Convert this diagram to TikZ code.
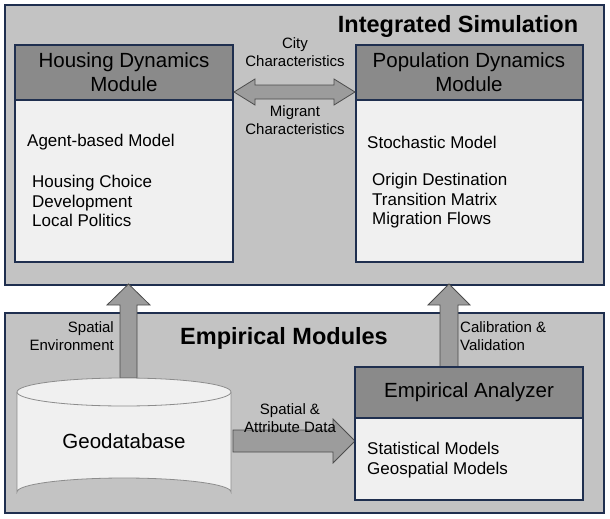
\documentclass[tikz,border=0pt]{standalone}
\usepackage{fontspec}
\setmainfont{Liberation Sans}
\usetikzlibrary{shapes.geometric,shapes.arrows}
\definecolor{navy}{HTML}{1F2F4F}
\definecolor{panel}{HTML}{C3C3C3}
\definecolor{head}{HTML}{8A8A8A}
\definecolor{box}{HTML}{F0F0F0}
\begin{document}
\begin{tikzpicture}[x=1pt,y=-1pt,
 panelst/.style={draw=navy,line width=2.5pt,fill=panel},
 boxst/.style={draw=navy,line width=1.8pt,fill=box},
 headst/.style={draw=navy,line width=1.8pt,fill=head},
 txt/.style={font=\fontsize{17}{19.5}\selectfont,anchor=west,align=left,inner sep=0},
 lab/.style={font=\fontsize{15}{18}\selectfont,align=center,inner sep=0},
 htxt/.style={font=\fontsize{20.5}{24}\selectfont,align=center},
 arr/.style={draw=black!70,fill=head!85,line width=0.8pt}]
\useasboundingbox (0,0) rectangle (610,519);
% panels
\draw[panelst] (5,5) rectangle (604,285);
\draw[panelst] (5,313) rectangle (604,513);
\node[font=\bfseries\fontsize{23.5}{27}\selectfont] (t1) at (458,26) {Integrated Simulation};
\node[font=\bfseries\fontsize{23.5}{27}\selectfont] (t2) at (284,338) {Empirical Modules};
% housing
\draw[boxst] (15,45) rectangle (233,262);
\draw[headst] (15,45) rectangle (233,100);
\node[htxt] (hh) at (124,72) {Housing Dynamics\\Module};
\node[txt] (h1) at (27,142) {Agent-based Model};
\node[txt] (h2) at (32,201) {Housing Choice\\Development\\Local Politics};
% population
\draw[boxst] (356,45) rectangle (583,262);
\draw[headst] (356,45) rectangle (583,100);
\node[htxt] (ph) at (469,72) {Population Dynamics\\Module};
\node[txt] (p1) at (367,142) {Stochastic Model};
\node[txt] (p2) at (372,201) {Origin Destination\\Transition Matrix\\Migration Flows};
% double arrow
\draw[arr] (234,92) -- (255,79) -- (255,85) -- (334,85) -- (334,79) -- (355,92) -- (334,105) -- (334,99) -- (255,99) -- (255,105) -- cycle;
\node[lab] (c1) at (295,52) {City\\Characteristics};
\node[lab] (c2) at (295,120) {Migrant\\Characteristics};
% up arrows
\draw[arr] (120,378) -- (120,305) -- (107,305) -- (128.5,284) -- (150,305) -- (137,305) -- (137,378) -- cycle;
\node[lab,anchor=east,align=right] (se) at (114,336) {Spatial\\Environment};
\draw[arr] (440,367) -- (440,305) -- (428,305) -- (449,284) -- (470,305) -- (458,305) -- (458,367) -- cycle;
\node[lab,anchor=west,align=left] (cv) at (460,336) {Calibration \&\\Validation};
% cylinder
\draw[draw=black!45,fill=box,line width=0.8pt] (17,392) -- (17,492) arc[start angle=180,end angle=360,x radius=107,y radius=14] -- (231,392);
\draw[draw=black!45,fill=box,line width=0.8pt] (124,392) ellipse[x radius=107,y radius=14];
\node[font=\fontsize{20.5}{24}\selectfont] (gd) at (124,441) {Geodatabase};
% right arrow
\draw[arr] (233,430) -- (333,430) -- (333,419) -- (355,441) -- (333,463) -- (333,452) -- (233,452) -- cycle;
\node[lab] (sa) at (290,418) {Spatial \&\\Attribute Data};
% empirical analyzer
\draw[boxst] (355,367) rectangle (583,500);
\draw[headst] (355,367) rectangle (583,418);
\node[htxt] (ea) at (469,392) {Empirical Analyzer};
\node[txt] (e1) at (367,460) {Statistical Models\\Geospatial Models};
\end{tikzpicture}
\end{document}
